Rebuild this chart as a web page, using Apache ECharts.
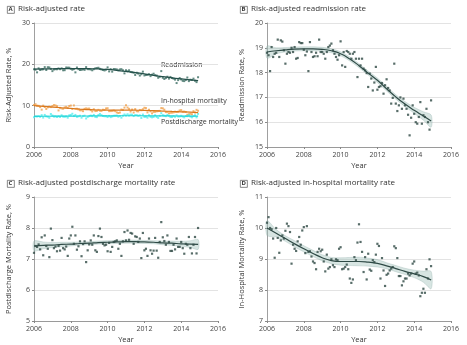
<!DOCTYPE html>
<html>
<head>
<meta charset="utf-8">
<script src="https://cdn.jsdelivr.net/npm/echarts@6/dist/echarts.min.js"></script>
<style>
  html, body { margin: 0; padding: 0; background: #fff; }
  #chart { width: 467px; height: 345px; }
</style>
</head>
<body>
<div id="chart"></div>
<script>
// monthly risk-adjusted rates, Jan 2006 - Dec 2014
const readmission = [
  18.80, 18.70, 18.06, 19.03, 18.63, 18.76, 18.80, 19.33, 18.63, 19.30, 19.25, 18.90,
  18.36, 18.76, 18.83, 18.80, 19.00, 18.83, 19.03, 18.56, 18.59, 19.23, 19.19, 19.19,
  18.92, 18.70, 18.85, 18.06, 19.23, 18.83, 18.63, 18.66, 18.80, 18.66, 19.33, 18.83,
  18.83, 18.76, 18.56, 18.83, 19.03, 19.09, 19.17, 18.90, 18.76, 18.63, 18.52, 18.70,
  19.26, 18.29, 18.83, 18.23, 18.87, 18.83, 18.76, 18.56, 18.76, 18.83, 18.56, 17.82,
  18.56, 18.29, 18.56, 18.16, 18.09, 17.98, 17.42, 17.96, 17.76, 17.28, 17.60, 18.23,
  17.31, 17.42, 17.45, 17.58, 17.15, 17.49, 17.73, 17.38, 17.28, 16.75, 16.98, 18.36,
  16.75, 16.45, 16.68, 17.00, 16.54, 16.95, 16.68, 16.54, 16.30, 15.47, 16.18, 16.68,
  16.34, 16.00, 15.94, 16.21, 16.81, 15.94, 16.28, 16.21, 16.54, 16.00, 15.70, 16.88
]
const postdischarge = [
  7.20, 7.42, 7.39, 7.47, 7.31, 7.70, 7.12, 7.76, 7.42, 7.33, 7.06, 7.98,
  7.61, 7.35, 7.40, 7.25, 7.42, 7.27, 7.68, 7.35, 7.31, 7.40, 7.10, 7.66,
  7.76, 8.04, 7.49, 7.76, 7.30, 7.41, 7.57, 7.09, 7.48, 7.57, 6.90, 7.28,
  7.47, 7.60, 7.46, 7.76, 7.28, 7.23, 7.74, 7.98, 7.71, 7.49, 7.44, 7.46,
  7.25, 7.52, 7.23, 7.39, 7.55, 7.57, 7.60, 7.33, 7.49, 7.10, 7.57, 7.87,
  7.60, 7.92, 7.62, 7.84, 7.82, 7.49, 7.73, 7.71, 7.55, 7.66, 7.03, 7.84,
  7.28, 7.33, 7.10, 7.66, 7.28, 7.17, 7.27, 7.68, 7.27, 7.04, 7.55, 8.19,
  7.70, 7.58, 7.46, 7.76, 7.55, 7.26, 7.26, 7.46, 7.31, 7.66, 7.39, 7.39,
  7.55, 7.35, 7.17, 7.49, 7.46, 7.71, 7.35, 7.18, 7.46, 7.71, 7.18, 8.00
]
const inhospital = [
  10.17, 10.35, 10.00, 9.96, 9.66, 9.04, 10.00, 9.68, 9.20, 9.60, 9.76, 9.66,
  9.91, 10.14, 10.06, 9.87, 8.85, 9.46, 9.33, 9.26, 9.57, 9.71, 9.46, 9.92,
  10.03, 9.19, 10.06, 9.23, 9.25, 9.08, 8.92, 8.87, 8.67, 9.23, 9.33, 9.25,
  9.30, 8.92, 8.60, 9.14, 8.69, 8.74, 8.99, 8.80, 8.74, 8.99, 8.96, 9.33,
  9.38, 8.67, 8.69, 8.74, 8.82, 8.67, 8.37, 8.23, 8.34, 9.06, 8.96, 9.53,
  10.12, 9.55, 9.23, 8.58, 9.06, 8.34, 9.17, 8.66, 8.62, 8.96, 8.90, 9.14,
  9.49, 9.42, 8.37, 9.03, 8.63, 8.13, 8.49, 8.53, 8.63, 8.69, 8.74, 9.41,
  9.35, 9.03, 8.45, 8.45, 8.15, 8.28, 8.37, 8.37, 8.53, 8.47, 8.53, 8.85,
  8.92, 8.53, 8.56, 8.47, 7.80, 7.91, 8.04, 7.91, 8.67, 8.37, 8.99, 8.77
]

// smoothed fits with 95% bands, read at half-year steps
const fitYears = [2006, 2006.5, 2007, 2007.5, 2008, 2008.5, 2009, 2009.5, 2010, 2010.5,
  2011, 2011.5, 2012, 2012.5, 2013, 2013.5, 2014, 2014.5, 2014.92]
const fitReadm = [18.83, 18.88, 18.92, 18.95, 18.96, 18.96, 18.94, 18.88, 18.76, 18.55,
  18.28, 17.98, 17.69, 17.35, 17.02, 16.73, 16.48, 16.25, 16.05]
const loReadm = [18.58, 18.76, 18.83, 18.87, 18.88, 18.88, 18.86, 18.80, 18.68, 18.47,
  18.20, 17.90, 17.60, 17.26, 16.93, 16.63, 16.36, 16.08, 15.80]
const hiReadm = [19.07, 19.00, 19.01, 19.03, 19.04, 19.04, 19.02, 18.96, 18.84, 18.63,
  18.36, 18.06, 17.78, 17.44, 17.11, 16.83, 16.60, 16.42, 16.29]
const fitPost = [7.42, 7.44, 7.45, 7.47, 7.48, 7.50, 7.51, 7.53, 7.54, 7.55,
  7.56, 7.56, 7.55, 7.54, 7.52, 7.51, 7.49, 7.48, 7.47]
const loPost = [7.26, 7.33, 7.37, 7.40, 7.42, 7.45, 7.46, 7.48, 7.49, 7.50,
  7.51, 7.51, 7.50, 7.49, 7.46, 7.44, 7.41, 7.37, 7.31]
const hiPost = [7.58, 7.55, 7.53, 7.54, 7.54, 7.55, 7.56, 7.58, 7.59, 7.60,
  7.61, 7.61, 7.60, 7.59, 7.58, 7.58, 7.57, 7.59, 7.63]
const fitInhosp = [10.00, 9.83, 9.66, 9.49, 9.33, 9.18, 9.04, 8.95, 8.92, 8.92,
  8.92, 8.90, 8.86, 8.78, 8.69, 8.60, 8.52, 8.43, 8.32]
const loInhosp = [9.76, 9.71, 9.57, 9.39, 9.23, 9.08, 8.94, 8.85, 8.80, 8.79,
  8.78, 8.77, 8.74, 8.68, 8.59, 8.50, 8.40, 8.25, 8.04]
const hiInhosp = [10.24, 9.95, 9.75, 9.59, 9.43, 9.28, 9.14, 9.05, 9.04, 9.05,
  9.06, 9.03, 8.98, 8.88, 8.79, 8.70, 8.64, 8.61, 8.60]

const xTicks = { min: 2006, max: 2016, interval: 2 }

const chart = echarts.init(document.getElementById('chart'), null, { renderer: 'canvas' })

function monthly(arr) {
  return arr.map((v, i) => [2006 + i / 12, v])
}
function fitPts(arr) {
  return arr.map((v, i) => [fitYears[i], v])
}

const grids = [
  { left: 34, top: 23, width: 184, height: 124 },
  { left: 267, top: 23, width: 184, height: 124 },
  { left: 34, top: 197, width: 184, height: 124 },
  { left: 267, top: 197, width: 184, height: 124 }
]

const axisText = { fontSize: 7, color: '#444', fontFamily: 'Open Sans' }
const nameText = { fontSize: 7.5, color: '#333', fontFamily: 'Open Sans' }

function xAxis(idx) {
  return {
    gridIndex: idx, type: 'value', min: xTicks.min, max: xTicks.max, interval: xTicks.interval,
    name: 'Year', nameLocation: 'middle', nameGap: 15, nameTextStyle: nameText,
    axisLine: { lineStyle: { color: '#888', width: 0.8 } },
    axisTick: { show: true, length: 2, lineStyle: { color: '#888' } },
    axisLabel: Object.assign({ margin: 4, formatter: v => String(v) }, axisText),
    splitLine: { show: false }
  }
}
function yAxis(idx, min, max, interval, name) {
  return {
    gridIndex: idx, type: 'value', min: min, max: max, interval: interval,
    name: name, nameLocation: 'middle', nameGap: 21, nameTextStyle: nameText,
    axisLine: { show: true, lineStyle: { color: '#888', width: 0.8 } },
    axisTick: { show: true, length: 2, lineStyle: { color: '#888' } },
    axisLabel: Object.assign({ margin: 4 }, axisText),
    splitLine: { show: true, lineStyle: { color: '#dcdcdc', width: 0.8 } }
  }
}

function band(idx, lo, hi) {
  return {
    type: 'custom', xAxisIndex: idx, yAxisIndex: idx, silent: true, z: 1,
    data: [0],
    renderItem: function(params, api) {
      const pts = []
      for (let i = 0; i < fitYears.length; i++) pts.push(api.coord([fitYears[i], hi[i]]))
      for (let i = fitYears.length - 1; i >= 0; i--) pts.push(api.coord([fitYears[i], lo[i]]))
      return {
        type: 'polygon', shape: { points: pts, smooth: 0.3 },
        style: { fill: 'rgba(160,192,186,0.42)', stroke: 'rgba(130,165,160,0.55)', lineWidth: 0.5 }
      }
    }
  }
}
function dots(idx, arr, color, size) {
  return {
    type: 'scatter', xAxisIndex: idx, yAxisIndex: idx, data: monthly(arr), z: 3,
    symbol: 'rect', symbolSize: size || 2.2, itemStyle: { color: color }
  }
}
function fitLine(idx, arr, color, width) {
  return {
    type: 'line', xAxisIndex: idx, yAxisIndex: idx, data: fitPts(arr), z: 4,
    smooth: true, showSymbol: false, lineStyle: { color: color, width: width || 1.2 }
  }
}

function titleBox(x, y, letter, text) {
  return [
    { type: 'rect', left: x, top: y, shape: { width: 7, height: 7 },
      style: { fill: '#fff', stroke: '#555', lineWidth: 0.7 } },
    { type: 'text', left: x + 1.6, top: y + 0.3,
      style: { text: letter, fontSize: 6, fontWeight: 'bold', fill: '#333', fontFamily: 'Open Sans' } },
    { type: 'text', left: x + 11, top: y - 1,
      style: { text: text, fontSize: 8, fill: '#333', fontFamily: 'Open Sans' } }
  ]
}
function seriesLabel(x, y, text) {
  return { type: 'text', left: x, top: y,
    style: { text: text, fontSize: 7, fill: '#333', fontFamily: 'Open Sans' } }
}

chart.setOption({
  animation: false,
  grid: grids,
  xAxis: [xAxis(0), xAxis(1), xAxis(2), xAxis(3)],
  yAxis: [
    yAxis(0, 0, 30, 10, 'Risk-Adjusted Rate, %'),
    yAxis(1, 15, 20, 1, 'Readmission Rate, %'),
    yAxis(2, 5, 9, 1, 'Postdischarge Mortality Rate, %'),
    yAxis(3, 7, 11, 1, 'In-Hospital Mortality Rate, %')
  ],
  graphic: [].concat(
    titleBox(7, 6, 'A', 'Risk-adjusted rate'),
    titleBox(240, 6, 'B', 'Risk-adjusted readmission rate'),
    titleBox(7, 180, 'C', 'Risk-adjusted postdischarge mortality rate'),
    titleBox(240, 180, 'D', 'Risk-adjusted in-hospital mortality rate'),
    [
      seriesLabel(161, 61, 'Readmission'),
      seriesLabel(161, 97, 'In-hospital mortality'),
      seriesLabel(161, 118, 'Postdischarge mortality')
    ]
  ),
  series: [
    dots(0, readmission, '#3d6e64', 2),
    fitLine(0, fitReadm, '#24504a', 1.2),
    dots(0, inhospital, '#f0a14e', 2),
    fitLine(0, fitInhosp, '#d9781e', 1.2),
    dots(0, postdischarge, '#55eded', 2),
    fitLine(0, fitPost, '#22d3d8', 1.2),

    band(1, loReadm, hiReadm),
    dots(1, readmission, '#2e4843'),
    fitLine(1, fitReadm, '#2f4a46'),

    band(2, loPost, hiPost),
    dots(2, postdischarge, '#2e4843'),
    fitLine(2, fitPost, '#2f4a46'),

    band(3, loInhosp, hiInhosp),
    dots(3, inhospital, '#2e4843'),
    fitLine(3, fitInhosp, '#2f4a46')
  ]
})
</script>
</body>
</html>
